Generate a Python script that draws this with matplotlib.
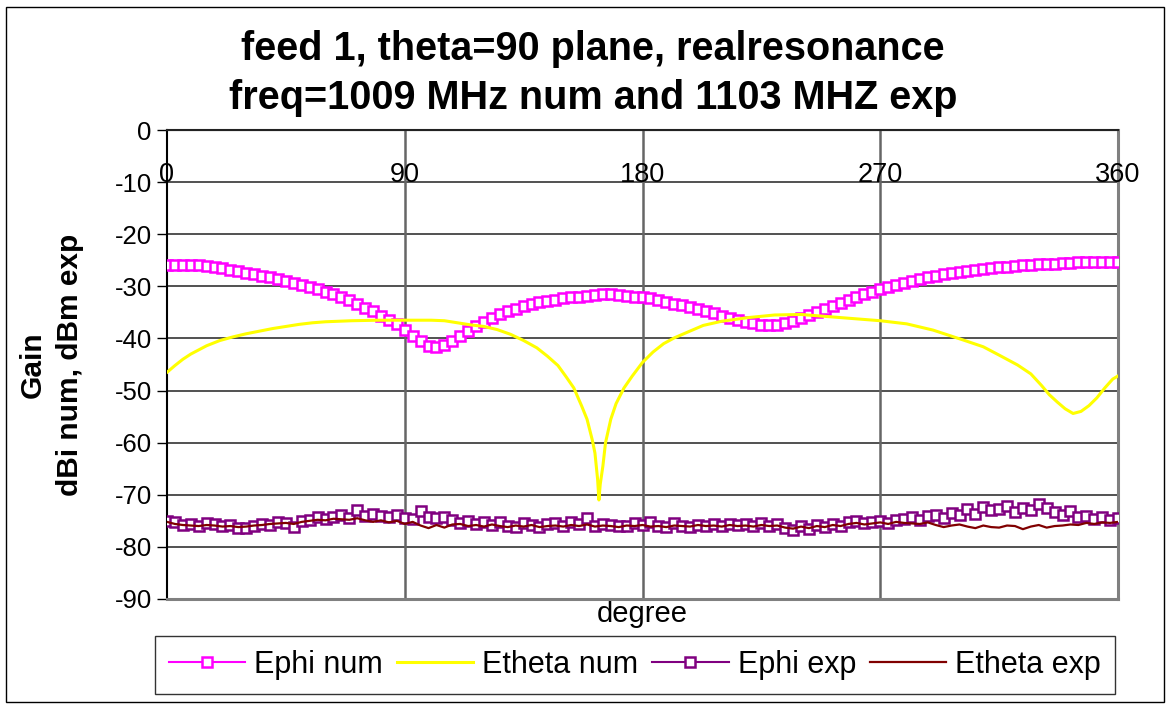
import numpy as np
import matplotlib.pyplot as plt
from matplotlib.patches import Rectangle

plt.rcParams['font.family'] = ['Liberation Sans', 'DejaVu Sans']

# angles in degrees, 3 degree step
deg = list(range(0, 361, 3))

ephi_num = [-26.0, -26.0, -26.0, -26.0, -26.0, -26.1, -26.3, -26.5, -26.8, -27.1,
            -27.4, -27.7, -28.0, -28.3, -28.6, -28.9, -29.3, -29.7, -30.1, -30.5,
            -31.0, -31.4, -32.0, -32.7, -33.4, -34.1, -34.8, -35.6, -36.4, -37.3,
            -38.3, -39.5, -40.5, -41.4, -41.7, -41.3, -40.4, -39.5, -38.6, -37.7,
            -36.9, -36.1, -35.4, -34.8, -34.3, -33.8, -33.4, -33.1, -32.8, -32.6,
            -32.3, -32.1, -32.0, -31.8, -31.6, -31.5, -31.5, -31.6, -31.8, -32.0,
            -32.1, -32.3, -32.6, -33.0, -33.3, -33.6, -34.0, -34.4, -34.8, -35.2,
            -35.6, -36.0, -36.4, -36.8, -37.1, -37.4, -37.5, -37.4, -37.1, -36.6,
            -36.0, -35.5, -35.0, -34.4, -33.8, -33.2, -32.6, -32.0, -31.5, -31.0,
            -30.6, -30.2, -29.7, -29.3, -28.9, -28.6, -28.3, -28.0, -27.7, -27.4,
            -27.2, -27.0, -26.8, -26.6, -26.4, -26.3, -26.2, -26.1, -26.0, -25.9,
            -25.8, -25.8, -25.7, -25.6, -25.5, -25.4, -25.3, -25.3, -25.3, -25.3,
            -25.3]

ephi_exp = [-75.0, -75.3, -75.8, -75.6, -76.0, -75.4, -75.7, -76.0, -75.8, -76.4,
            -76.3, -76.0, -75.6, -75.8, -75.3, -75.5, -76.2, -75.0, -74.8, -74.3,
            -74.6, -74.2, -73.9, -74.4, -73.0, -74.1, -73.7, -74.0, -74.2, -73.8,
            -74.4, -74.6, -73.2, -74.3, -74.5, -74.2, -74.9, -75.4, -75.0, -75.6,
            -75.3, -75.8, -75.2, -75.9, -76.1, -75.5, -75.8, -76.2, -75.6, -75.4,
            -75.9, -75.2, -75.7, -74.5, -76.0, -75.6, -75.8, -76.0, -75.9, -75.4,
            -75.8, -75.2, -75.9, -76.1, -75.5, -75.9, -76.2, -75.8, -76.0, -75.7,
            -75.9, -75.6, -75.8, -75.7, -75.9, -75.5, -76.0, -75.6, -76.3, -76.8,
            -76.0, -76.5, -75.8, -76.2, -75.6, -75.9, -75.3, -75.0, -75.5, -75.2,
            -75.0, -75.4, -74.8, -74.6, -74.2, -74.8, -74.0, -73.8, -74.5, -73.5,
            -73.9, -72.8, -73.6, -72.4, -73.0, -72.7, -72.2, -73.4, -72.5, -72.9,
            -71.8, -72.6, -73.4, -73.8, -73.1, -74.2, -74.0, -74.6, -74.3, -74.8,
            -74.5]

etheta_exp = [-75.2, -75.6, -75.8, -75.9, -76.0, -75.8, -75.9, -76.1, -76.0, -76.2,
              -76.1, -75.9, -75.8, -75.6, -75.5, -75.4, -75.6, -75.2, -75.0, -74.8,
              -74.9, -74.6, -74.7, -74.8, -74.5, -74.9, -75.2, -74.9, -75.3, -75.0,
              -75.6, -75.2, -75.9, -76.4, -75.8, -76.3, -75.7, -75.6, -76.0, -75.8,
              -76.1, -75.7, -76.0, -76.2, -75.9, -76.1, -75.8, -76.2, -76.0, -75.9,
              -76.1, -75.8, -76.0, -75.7, -76.1, -75.9, -76.0, -76.2, -75.9, -76.0,
              -75.8, -76.1, -76.0, -76.2, -75.9, -76.0, -76.1, -75.8, -76.0, -75.9,
              -76.1, -75.8, -76.0, -75.9, -76.1, -75.8, -76.0, -75.9, -76.3, -76.5,
              -76.1, -76.4, -76.0, -76.2, -75.8, -76.0, -75.6, -75.4, -75.7, -75.5,
              -75.3, -75.6, -75.2, -75.4, -75.5, -75.6, -75.3, -75.8, -76.2, -75.9,
              -75.7, -76.1, -76.4, -75.9, -76.2, -76.3, -75.9, -76.0, -76.6, -76.1,
              -75.8, -76.3, -76.0, -75.9, -75.7, -75.8, -75.4, -75.6, -75.3, -75.4,
              -75.2]

# Etheta num, read at its own angles (finer around the null)
deg_theta = [0, 3, 6, 9, 12, 15, 20, 25, 30, 35, 40, 45, 50, 55, 60, 70, 80, 90,
             100, 105, 110, 115, 120, 125, 130, 135, 140, 144, 148, 151, 154, 157,
             159, 161, 162, 163, 163.5, 164, 165, 166, 168, 170, 173, 176, 180, 184,
             188, 192, 197, 203, 210, 220, 230, 240, 250, 260, 270, 280, 290, 296,
             302, 309, 315, 322, 327, 331, 334, 337, 340, 343, 346, 349, 352, 355,
             358, 360]
etheta_num = [-46.5, -45.2, -44.0, -43.0, -42.2, -41.4, -40.4, -39.7, -39.1, -38.6,
              -38.1, -37.7, -37.3, -37.0, -36.8, -36.6, -36.5, -36.5, -36.5, -36.6,
              -37.0, -37.4, -37.7, -38.3, -39.2, -40.4, -41.8, -43.4, -45.2, -47.3,
              -49.5, -53.0, -55.5, -59.5, -62.0, -67.0, -71.0, -68.0, -64.5, -60.0,
              -55.5, -52.5, -49.5, -47.3, -44.6, -42.6, -41.0, -39.9, -38.8, -37.5,
              -36.7, -36.0, -35.5, -35.4, -35.8, -36.2, -36.6, -37.2, -38.4, -39.4,
              -40.4, -41.6, -43.2, -45.1, -46.8, -49.0, -50.8, -52.2, -53.5, -54.4,
              -54.0, -52.9, -51.4, -49.5, -47.8, -47.2]

x_labels = [0, 90, 180, 270, 360]
y_ticks = list(range(0, -91, -10))

fig = plt.figure(figsize=(11.67, 7.04), dpi=100)
fig.patches.append(Rectangle((6 / 1167, 2 / 704), 1158 / 1167, 695 / 704,
                             transform=fig.transFigure, fill=False,
                             edgecolor='black', linewidth=1.0))

ax = fig.add_axes([167 / 1167, 105 / 704, 951 / 1167, 469 / 704])

ax.plot(deg, ephi_num, color='#ff00ff', linewidth=1.5, marker='s', markersize=7,
        markerfacecolor='white', markeredgecolor='#ff00ff', markeredgewidth=1.8,
        label='Ephi num', zorder=3)
ax.plot(deg_theta, etheta_num, color='#ffff00', linewidth=2.2, label='Etheta num', zorder=4)
ax.plot(deg, ephi_exp, color='#800080', linewidth=1.5, marker='s', markersize=7.5,
        markerfacecolor='white', markeredgecolor='#800080', markeredgewidth=1.8,
        label='Ephi exp', zorder=3)
ax.plot(deg, etheta_exp, color='#800000', linewidth=1.6, label='Etheta exp', zorder=3)

ax.set_xlim(0, 360)
ax.set_ylim(-90, 0)
ax.set_yticks(y_ticks)
ax.set_yticklabels([str(v) for v in y_ticks], fontsize=18.5)
ax.tick_params(axis='y', direction='out', length=7, width=1, pad=4)
ax.set_xticks([])

for v in y_ticks[1:-1]:
    ax.axhline(v, color='#333333', linewidth=1.2, zorder=1)
ax.axhline(0, color='#222222', linewidth=1.5, zorder=1)
for v in x_labels[1:-1]:
    ax.axvline(v, color='#666666', linewidth=1.8, zorder=1)

for v in x_labels:
    ax.text(v, -8.6, str(v), ha='center', va='center', fontsize=19.5, zorder=5)

ax.spines['left'].set_color('black')
ax.spines['left'].set_linewidth(1.5)
ax.spines['right'].set_color('#808080')
ax.spines['right'].set_linewidth(2.2)
ax.spines['bottom'].set_color('#808080')
ax.spines['bottom'].set_linewidth(2.2)
ax.spines['top'].set_color('#222222')
ax.spines['top'].set_linewidth(1.5)

ax.set_xlabel('degree', fontsize=21, labelpad=1)
ax.set_ylabel('Gain\ndBi num, dBm exp', fontsize=21.5, fontweight='bold',
              linespacing=1.4, labelpad=22)

fig.suptitle('feed 1, theta=90 plane, realresonance\nfreq=1009 MHz num and 1103 MHZ exp',
             fontsize=28.5, fontweight='bold', x=0.508, y=0.958, linespacing=1.38)

leg = fig.legend(loc='lower center', ncol=4, fontsize=22, frameon=True,
                 bbox_to_anchor=(635 / 1167, 4 / 704), fancybox=False,
                 edgecolor='black', handlelength=2.5, columnspacing=0.45,
                 handletextpad=0.3, borderpad=0.45, borderaxespad=0.2)
leg.get_frame().set_linewidth(1.0)

fig.savefig('out.png', dpi=100)
